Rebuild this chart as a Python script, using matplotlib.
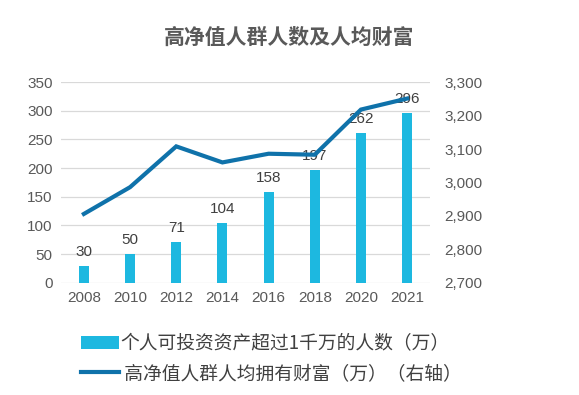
import matplotlib.pyplot as plt
import numpy as np

plt.rcParams['font.family'] = ['Liberation Sans', 'Noto Sans CJK SC', 'DejaVu Sans']

years = ['2008', '2010', '2012', '2014', '2016', '2018', '2020', '2021']
people = [30, 50, 71, 104, 158, 197, 262, 296]
wealth = [2906, 2986, 3108, 3060, 3086, 3083, 3218, 3251]

bar_color = '#1DB8E0'
line_color = '#0F72AA'
text_gray = '#595959'

fig = plt.figure(figsize=(5.79, 3.95), dpi=100)
ax = fig.add_axes([0.105, 0.284, 0.638, 0.508])
x = np.arange(len(years))

bars = ax.bar(x, people, width=0.22, color=bar_color, zorder=2,
              label='个人可投资资产超过1千万的人数（万）')
for xi, v in zip(x, people):
    ax.text(xi, v + 12, str(v), ha='center', va='bottom', fontsize=11, color='#404040', zorder=5)

ax.set_ylim(0, 350)
ax.set_yticks(range(0, 351, 50))
ax.set_xlim(-0.5, len(years) - 0.5)
ax.set_xticks(x)
ax.set_xticklabels(years)
ax.grid(axis='y', color='#D9D9D9', linewidth=0.9, zorder=0)
for s in ax.spines.values():
    s.set_visible(False)
ax.tick_params(length=0, labelsize=11, colors=text_gray, pad=6)

ax2 = ax.twinx()
ax2.plot(x, wealth, color=line_color, linewidth=3, zorder=3,
         label=' 高净值人群人均拥有财富（万）（右轴）', solid_joinstyle='miter')
ax2.set_ylim(2700, 3300)
ax2.set_yticks(range(2700, 3301, 100))
ax2.set_yticklabels([f'{v:,}' for v in range(2700, 3301, 100)])
for s in ax2.spines.values():
    s.set_visible(False)
ax2.tick_params(length=0, labelsize=11, colors=text_gray, pad=10)

fig.text(0.5, 0.905, '高净值人群人数及人均财富', ha='center', va='center',
         fontsize=15, color=text_gray, fontweight='bold',
         family=['Noto Sans CJK SC', 'DejaVu Sans'])

h1, l1 = ax.get_legend_handles_labels()
h2, l2 = ax2.get_legend_handles_labels()
leg = fig.legend(h1 + h2, l1 + l2, loc='center left', bbox_to_anchor=(0.14, 0.092),
                 frameon=False, handlelength=2.0, handletextpad=0.1,
                 labelspacing=0.45, borderaxespad=0, borderpad=0,
                 prop={'family': ['Noto Sans CJK SC', 'DejaVu Sans'], 'size': 13.5})
for t in leg.get_texts():
    t.set_color('#404040')

fig.savefig('out.png', dpi=100)
